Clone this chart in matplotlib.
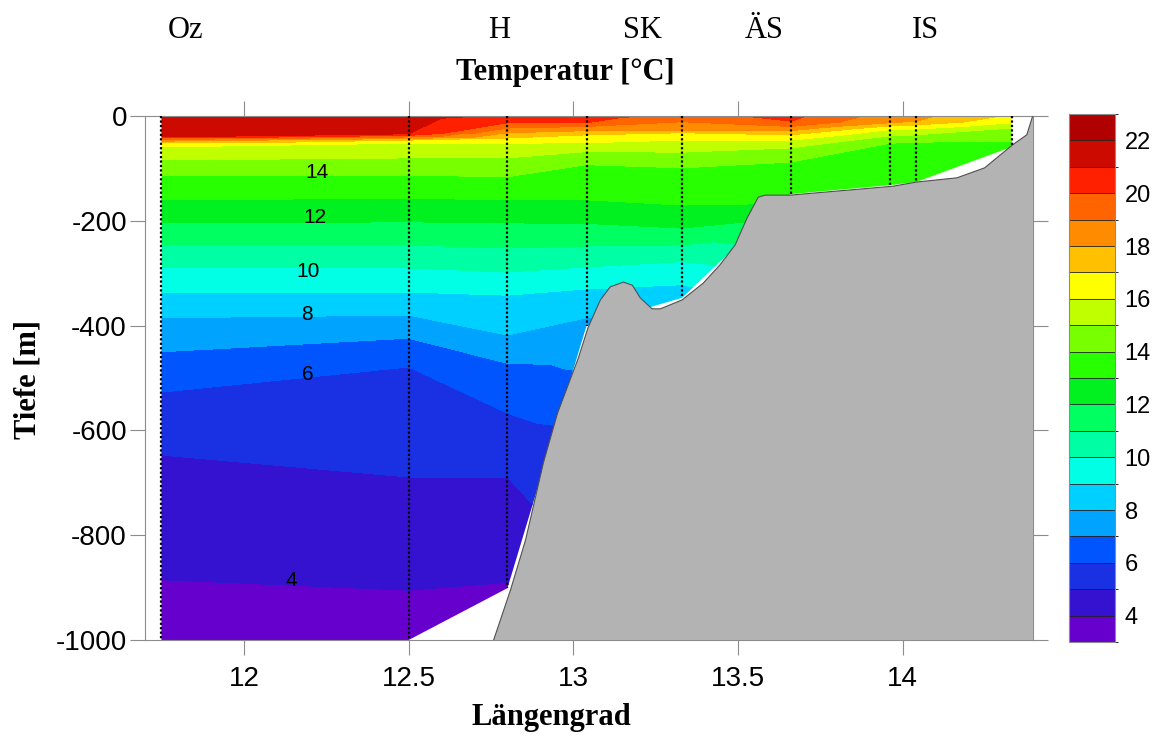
import matplotlib
matplotlib.use('Agg')
import matplotlib.pyplot as plt
import matplotlib as mpl
import matplotlib.colorbar
import matplotlib.tri as mtri
import numpy as np
from matplotlib import colors as c
from matplotlib.patches import Polygon
from matplotlib.transforms import blended_transform_factory

nan = np.nan

# CTD stations: longitude and bottom depth of the cast [m]
st_lon = [11.75, 12.5, 12.8, 13.04, 13.33, 13.66, 13.96, 14.04, 14.33]
st_bottom = [1000, 1000, 901, 400, 347, 149, 132, 126, 59]

# surface / bottom temperature of each cast [degC]
t_surf = [21.8, 21.5, 20.8, 20.5, 19.6, 20.3, 18.5, 18.3, 16.8]
t_bot = [3.5, 3.5, 3.95, 7.8, 8.5, 13.4, 13.2, 13.3, 13.8]

# depth [m] at which each isotherm is met, one row per station
iso_T = [21, 20, 19, 18, 17, 16, 15, 14, 13, 12, 11, 10, 9, 8, 7, 6, 5, 4]
iso_depth = [
    [40, 42, 45, 48, 51, 59, 84, 113, 160, 204, 246, 290, 336, 385, 450, 527, 647, 885],
    [34, 37, 40, 43, 46, 52, 80, 113, 157, 202, 246, 290, 336, 380, 424, 479, 689, 905],
    [nan, 13, 23, 32, 42, 52, 80, 116, 160, 204, 252, 298, 342, 418, 472, 567, 689, 890],
    [nan, 13, 20, 28, 36, 51, 68, 93, 160, 205, 248, 288, 330, 385, nan, nan, nan, nan],
    [nan, nan, 11, 27, 32, 46, 69, 99, 170, 214, 246, 278, 322, nan, nan, nan, nan, nan],
    [nan, 10, 20, 28, 36, 46, 61, 88, nan, nan, nan, nan, nan, nan, nan, nan, nan, nan],
    [nan, nan, nan, 13, 19, 26, 38, 52, nan, nan, nan, nan, nan, nan, nan, nan, nan, nan],
    [nan, nan, nan, 10, 17, 25, 36, 50, nan, nan, nan, nan, nan, nan, nan, nan, nan, nan],
    [nan, nan, nan, nan, nan, 13, 23, 48, nan, nan, nan, nan, nan, nan, nan, nan, nan, nan],
]

# sea floor
bathy_lon = [12.758, 12.809, 12.855, 12.909, 12.952, 13.015, 13.045, 13.082, 13.112,
             13.152, 13.179, 13.203, 13.239, 13.264, 13.330, 13.394, 13.445, 13.491,
             13.527, 13.561, 13.582, 13.658, 13.970, 14.042, 14.164, 14.248, 14.333,
             14.376, 14.394]
bathy_depth = [1000, 905, 809, 662, 567, 462, 403, 351, 326, 317, 323, 347, 368, 368,
               351, 319, 284, 246, 195, 155, 151, 151, 134, 126, 118, 99, 55, 36, 0]

# section names on top
name_txt = ['Oz', 'H', 'SK', 'ÄS', 'IS']
name_lon = [11.824, 12.776, 13.209, 13.579, 14.067]

# inline isotherm labels
lab_txt = ['14', '12', '10', '8', '6', '4']
lab_lon = [12.221, 12.215, 12.194, 12.191, 12.194, 12.145]
lab_depth = [107, 193, 296, 378, 494, 887]

xtick_vals = [12, 12.5, 13, 13.5, 14]
ytick_vals = [0, -200, -400, -600, -800, -1000]
cb_ticks = [4, 6, 8, 10, 12, 14, 16, 18, 20, 22]

c_pp = ['#6600cc', '#3512cf', '#1a30e3', '#0055ff', '#00a4ff', '#00d0ff', '#00ffe4',
        '#00ffa4', '#00ff60', '#00f020', '#28ff00', '#78ff00', '#c0ff00', '#ffff00',
        '#ffc000', '#ff8c00', '#ff6400', '#ff2000', '#cc0a00', '#b00000']
levels = np.arange(3, 24, 1)
c_map = c.ListedColormap(c_pp)
norm = c.BoundaryNorm(boundaries=levels, ncolors=len(c_pp))

serif = 'Liberation Serif'
sans = 'Liberation Sans'

# scattered points of the section
px, py, pz = [], [], []
for i, lon in enumerate(st_lon):
    px.append(lon); py.append(0.0); pz.append(t_surf[i])
    for T, d in zip(iso_T, iso_depth[i]):
        if not np.isnan(d):
            px.append(lon); py.append(-d); pz.append(T)
    px.append(lon); py.append(-st_bottom[i]); pz.append(t_bot[i])
px = np.array(px); py = np.array(py); pz = np.array(pz)

# triangulate in a plot-like aspect
tri0 = mtri.Triangulation(px * 630.0, py)
tri = mtri.Triangulation(px, py, tri0.triangles)

fig = plt.figure(figsize=(11.59, 7.36), dpi=100)
ax = fig.add_axes((0.1251, 0.1304, 0.7662, 0.7120))

cs = ax.tricontourf(tri, pz, levels=levels, cmap=c_map, norm=norm, zorder=1)
hull = [(x, 0) for x in st_lon] + [(x, -d) for x, d in zip(st_lon[::-1], st_bottom[::-1])]
clip = Polygon(hull, closed=True, transform=ax.transData)
cs.set_clip_path(clip)

# sea floor
bx = bathy_lon + [14.6, 14.6]
by = [-d for d in bathy_depth] + [0, -1000]
ax.fill(bx, by, color='#b3b3b3', lw=0, zorder=3)
ax.plot(bathy_lon, [-d for d in bathy_depth], color='#505050', lw=0.8, zorder=4)

# station casts
for lon, d in zip(st_lon, st_bottom):
    ax.plot([lon, lon], [0, -d], color='k', lw=1.6, ls=(0, (1, 1)), zorder=5)

for t, lon, d in zip(lab_txt, lab_lon, lab_depth):
    ax.text(lon, -d, t, fontsize=15, family=sans, ha='center', va='center', zorder=6)

ax.set_xlim(11.70, 14.395)
ax.set_ylim(-1000, 0)
ax.set_xticks(xtick_vals)
ax.set_xticklabels(['12', '12.5', '13', '13.5', '14'])
ax.set_yticks(ytick_vals)
ax.set_yticklabels(['0', '-200', '-400', '-600', '-800', '-1000'])
ax.tick_params(direction='out', length=11, width=0.8, color='#8c8c8c', top=True, right=True,
               labelsize=20)
ax.tick_params(axis='x', pad=8)
ax.tick_params(axis='y', pad=2)
for lab in ax.get_xticklabels() + ax.get_yticklabels():
    lab.set_family(sans)
for s in ax.spines.values():
    s.set_color('#8c8c8c')
    s.set_linewidth(0.8)

name_tr = blended_transform_factory(ax.transData, fig.transFigure)
for t, lon in zip(name_txt, name_lon):
    ax.text(lon, 0.959, t, transform=name_tr, fontsize=22, family=serif,
            ha='center', va='center')

fig.text(0.4875, 0.901, 'Temperatur [°C]', fontsize=22, family=serif, weight='bold',
         ha='center', va='center')
fig.text(0.476, 0.0245, 'Längengrad', fontsize=22, family=serif, weight='bold',
         ha='center', va='center')
fig.text(0.024, 0.484, 'Tiefe [m]', fontsize=22, family=serif, weight='bold',
         ha='center', va='center', rotation=90)

###################
cax = fig.add_axes((0.9223, 0.1277, 0.0397, 0.7174))
cb = mpl.colorbar.ColorbarBase(cax, orientation='vertical', cmap=c_map, norm=norm,
                               boundaries=levels, ticks=cb_ticks, drawedges=True)
cb.dividers.set_color('#202020')
cb.dividers.set_linewidth(0.6)
cb.outline.set_edgecolor('#8c8c8c')
cb.outline.set_linewidth(0.8)
cb.ax.tick_params(length=0, labelsize=17, pad=7)
for lab in cb.ax.get_yticklabels():
    lab.set_family(sans)

plt.savefig('out.png', dpi=100)
plt.close(fig)
